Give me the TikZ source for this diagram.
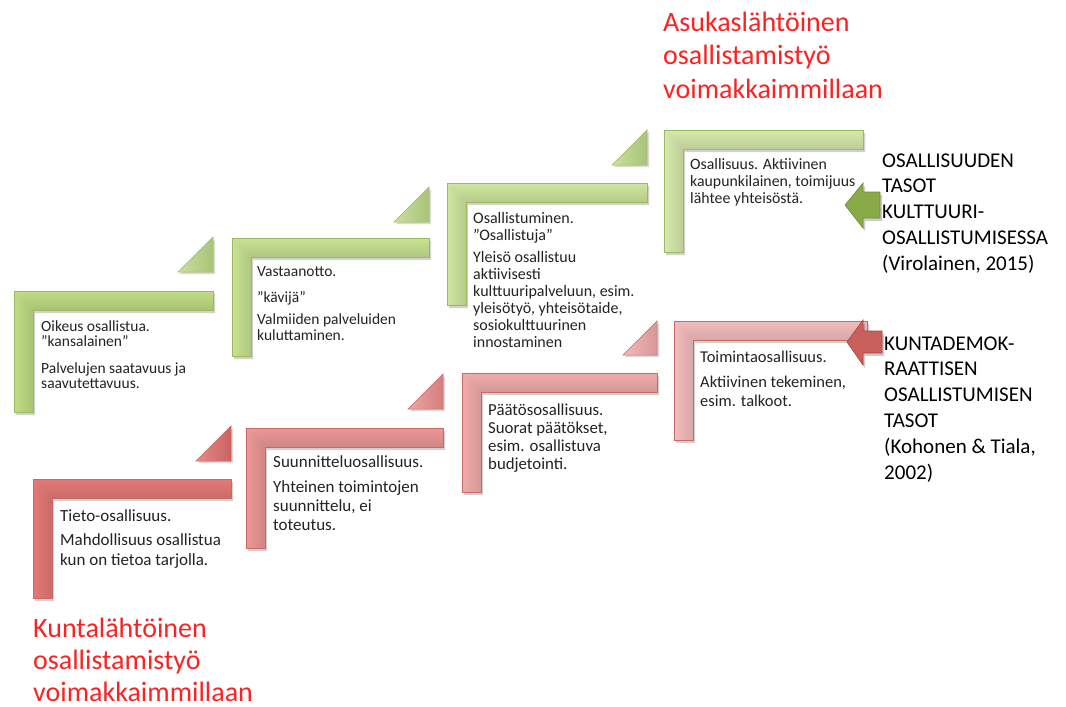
\documentclass[tikz,border=0pt]{standalone}
\usepackage{fontspec}
\setmainfont{Carlito}
\definecolor{titlered}{RGB}{250,35,35}
\definecolor{txt}{RGB}{35,35,35}
\definecolor{gedge}{RGB}{155,186,95}
\definecolor{glight}{RGB}{238,248,218}
\definecolor{gmA}{RGB}{192,221,132}
\definecolor{gmB}{RGB}{200,226,146}
\definecolor{gmC}{RGB}{207,230,158}
\definecolor{gmD}{RGB}{214,234,171}
\definecolor{gtri}{RGB}{188,217,133}
\definecolor{redge}{RGB}{200,105,102}
\definecolor{rlight}{RGB}{252,222,221}
\definecolor{rmA}{RGB}{228,122,119}
\definecolor{rmB}{RGB}{236,152,150}
\definecolor{rmC}{RGB}{240,172,171}
\definecolor{rmD}{RGB}{244,189,188}
\definecolor{rtriA}{RGB}{224,110,107}
\definecolor{rtriB}{RGB}{234,142,140}
\definecolor{rtriC}{RGB}{240,168,166}
\definecolor{garrow}{RGB}{138,170,72}
\definecolor{garrowedge}{RGB}{110,140,52}
\definecolor{rarrow}{RGB}{201,96,92}
\definecolor{rarrowedge}{RGB}{168,68,64}
\newcommand\stepshape[7]{%
  \fill[black,opacity=.18] ({#1+2},{#2+3}) -- ++(#3,0) -- ++(0,19) -- ++({-(#3-19)},0) -- ++(0,{#4-19}) -- ++(-19,0) -- cycle;
  \shade[top color=#5,middle color=#6,bottom color=#5!88!black] (#1,#2) -- ({#1+#3},#2) -- ({#1+#3},{#2+19}) -- ({#1+19},{#2+19}) -- cycle;
  \shade[left color=#5,middle color=#6,right color=#5!88!black] (#1,#2) -- ({#1+19},{#2+19}) -- ({#1+19},{#2+#4}) -- (#1,{#2+#4}) -- cycle;
  \draw[#7,line width=.5pt] (#1,#2) -- ++(#3,0) -- ++(0,19) -- ++({-(#3-19)},0) -- ++(0,{#4-19}) -- ++(-19,0) -- cycle;
}
\newcommand\tri[5]{% right x, bottom y, size, fill, edge
  \fill[black,opacity=.15] ({#1-#3+2},{#2+2}) -- ({#1+2},{#2+2}) -- ({#1+2},{#2-#3+2}) -- cycle;
  \shade[left color=#4!80!white,right color=#4!90!black,draw=#5,line width=.5pt] ({#1-#3},#2) -- (#1,#2) -- (#1,{#2-#3}) -- cycle;
}
\newcommand\lines[1]{\begin{tabular}[t]{@{}l@{}}#1\end{tabular}}
\tikzset{
  steptext/.style={anchor=base west,inner sep=0pt,text=txt},
  bigtitle/.style={anchor=base west,inner sep=0pt,text=titlered},
  sidelabel/.style={anchor=base west,inner sep=0pt,text=black,font=\fontsize{21}{25.8}\selectfont},
}
\begin{document}
\begin{tikzpicture}[x=1pt,y=-1pt]
\useasboundingbox (0,0) rectangle (1066,707);
\fill[white] (0,0) rectangle (1066,707);

% green triangles
\tri{213}{272}{35}{gtri}{gedge}
\tri{429}{222}{35}{gtri}{gedge}
\tri{647}{165}{35}{gtri}{gedge}
% red triangles
\tri{231}{461}{35}{rtriA}{redge}
\tri{443}{409}{35}{rtriB}{redge}
\tri{657}{355}{34}{rtriC}{redge}

% green steps
\stepshape{14}{291}{199}{121}{gmA}{glight}{gedge}
\stepshape{232}{238}{197}{118}{gmB}{glight}{gedge}
\stepshape{447}{183}{200}{122}{gmC}{glight}{gedge}
\stepshape{664}{130}{199}{122}{gmD}{glight}{gedge}
% red steps
\stepshape{33}{479}{198}{119}{rmA}{rlight!70!rmA}{redge}
\stepshape{246}{428}{197}{120}{rmB}{rlight}{redge}
\stepshape{462}{373}{195}{119}{rmC}{rlight}{redge}
\stepshape{674}{321}{193}{119}{rmD}{rlight}{redge}

% green texts
\node[steptext,font=\fontsize{15.5}{15}\selectfont] (g1) at (41,331) {\lines{Oikeus osallistua.\\”kansalainen”\\[12pt]Palvelujen saatavuus ja\\saavutettavuus.}};
\node[steptext,font=\fontsize{15.5}{16}\selectfont] (g2) at (257,276) {\lines{Vastaanotto.\\[10pt]”kävijä”\\[6pt]Valmiiden palveluiden\\kuluttaminen.}};
\node[steptext,font=\fontsize{16}{17}\selectfont] (g3) at (473,223) {\lines{Osallistuminen.\\”Osallistuja”\\[5pt]Yleisö osallistuu\\aktiivisesti\\kulttuuripalveluun, esim.\\yleisötyö, yhteisötaide,\\sosiokulttuurinen\\innostaminen}};
\node[steptext,font=\fontsize{15.8}{17}\selectfont] (g4) at (690,169) {\lines{Osallisuus. Aktiivinen\\kaupunkilainen, toimijuus\\lähtee yhteisöstä.}};

% red texts
\node[steptext,font=\fontsize{17}{20}\selectfont] (r1) at (60,521) {\lines{Tieto-osallisuus.\\[4pt]Mahdollisuus osallistua\\kun on tietoa tarjolla.}};
\node[steptext,font=\fontsize{17}{19}\selectfont] (r2) at (273,467) {\lines{Suunnitteluosallisuus.\\[6pt]Yhteinen toimintojen\\suunnittelu, ei\\toteutus.}};
\node[steptext,font=\fontsize{16.8}{18}\selectfont] (r3) at (488,415) {\lines{Päätösosallisuus.\\Suorat päätökset,\\esim. osallistuva\\budjetointi.}};
\node[steptext,font=\fontsize{16.5}{19}\selectfont] (r4) at (700,362) {\lines{Toimintaosallisuus.\\[6pt]Aktiivinen tekeminen,\\esim. talkoot.}};

% arrows
\fill[black,opacity=.2] (847,208) -- (865,186) -- (865,195) -- (882,195) -- (882,221) -- (865,221) -- (865,231) -- cycle;
\filldraw[fill=garrow,draw=garrowedge,line width=.6pt] (845,205) -- (863,183) -- (863,192) -- (880,192) -- (880,218) -- (863,218) -- (863,228) -- cycle;
\fill[black,opacity=.2] (849,345) -- (865,323) -- (865,334) -- (884,334) -- (884,356) -- (865,356) -- (865,368) -- cycle;
\filldraw[fill=rarrow,draw=rarrowedge,line width=.6pt] (847,342) -- (863,320) -- (863,331) -- (882,331) -- (882,353) -- (863,353) -- (863,365) -- cycle;

% side labels
\node[sidelabel] (gl) at (882,167) {\lines{OSALLISUUDEN\\TASOT\\KULTTUURI-\\OSALLISTUMISESSA\\(Virolainen, 2015)}};
\node[sidelabel] (rl) at (884,350) {\lines{KUNTADEMOK-\\RAATTISEN\\OSALLISTUMISEN\\TASOT\\(Kohonen \& Tiala,\\2002)}};

% titles
\node[bigtitle,font=\fontsize{28}{33.5}\selectfont] (tt) at (663,31) {\lines{Asukaslähtöinen\\osallistamistyö\\voimakkaimmillaan}};
\node[bigtitle,font=\fontsize{28}{32}\selectfont] (bt) at (33,637) {\lines{Kuntalähtöinen\\osallistamistyö\\voimakkaimmillaan}};
\end{tikzpicture}
\end{document}
